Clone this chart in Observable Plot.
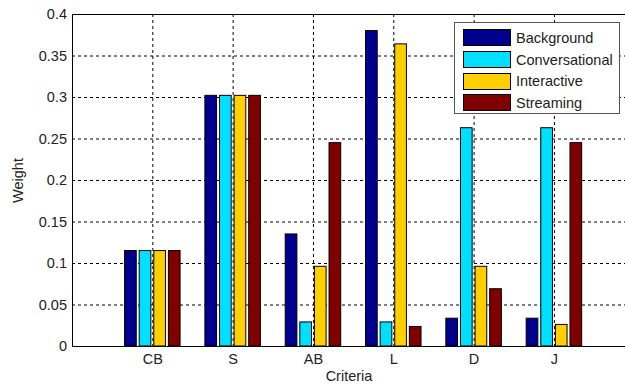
<!DOCTYPE html>
<html>
<head>
<meta charset="utf-8">
<script src="https://cdn.jsdelivr.net/npm/d3@7"></script>
<script src="https://cdn.jsdelivr.net/npm/@observablehq/plot@0.6"></script>
<style>
  html, body { margin: 0; padding: 0; background: #fff; overflow: hidden; }
  #wrap { position: relative; width: 625px; height: 390px; }
  #legend {
    position: absolute; left: 454px; top: 22px; width: 166px; height: 92px;
    border: 1px solid #555; background: #fff; box-sizing: border-box;
    font-family: "Liberation Sans", Arial, sans-serif; font-size: 14.5px; color: #222;
    padding: 4px 0 0 8px;
  }
  #legend .row { display: flex; align-items: center; height: 21.7px; }
  #legend .sw { width: 46px; height: 15px; border: 1px solid #000; margin-right: 5px; box-sizing: content-box; }
</style>
</head>
<body>
<div id="wrap"></div>
<script>
const categories = ["CB", "S", "AB", "L", "D", "J"];
const series = ["Background", "Conversational", "Interactive", "Streaming"];
const background     = [0.115, 0.302, 0.135, 0.380, 0.0335, 0.0335];
const conversational = [0.115, 0.302, 0.029, 0.029, 0.263, 0.263];
const interactive    = [0.115, 0.302, 0.096, 0.364, 0.096, 0.026];
const streaming      = [0.115, 0.302, 0.245, 0.0235, 0.069, 0.245];
const colors = ["#00008F", "#00DFFF", "#FFCF00", "#800000"];
const yTicks = [0, 0.05, 0.1, 0.15, 0.2, 0.25, 0.3, 0.35, 0.4];

const values = [background, conversational, interactive, streaming];
const rows = categories.flatMap((c, i) =>
  series.map((s, j) => ({ cat: c, pos: i + 1, j, series: s, value: values[j][i] }))
);
// MATLAB grouped-bar geometry (4 series)
const groupWidth = 4 / 5.5;
const slot = groupWidth / 4;
const barW = slot * 0.8;
const center = d => d.pos - groupWidth / 2 + (d.j + 0.5) * slot;
const xPositions = categories.map((c, i) => i + 1);

const font = "'Liberation Sans', Arial, sans-serif";
const chart = Plot.plot({
  width: 625,
  height: 390,
  marginLeft: 72,
  marginRight: 0,
  marginTop: 14,
  marginBottom: 44,
  style: { fontFamily: font, fontSize: "14.5px", color: "#222", background: "#fff" },
  x: { type: "linear", domain: [0, 553 / 80.32] },
  y: { domain: [0, 0.4] },
  color: { domain: series, range: colors },
  marks: [
    Plot.gridY(yTicks.slice(1, -1), { stroke: "#000", strokeOpacity: 1, strokeDasharray: "3,3" }),
    Plot.gridX(xPositions, { stroke: "#000", strokeOpacity: 1, strokeDasharray: "3,3" }),
    Plot.rectY(rows, {
      x1: d => center(d) - barW / 2,
      x2: d => center(d) + barW / 2,
      y: "value",
      fill: "series",
      stroke: "#000",
      strokeWidth: 1
    }),
    Plot.ruleY([0, 0.4], { stroke: "#000" }),
    Plot.ruleX([0], { stroke: "#000" }),
    Plot.axisY({
      ticks: yTicks, tickSize: 0, tickPadding: 5.5,
      tickFormat: d => String(+d.toFixed(2)),
      label: "Weight", labelAnchor: "center", labelArrow: "none", labelOffset: 60,
      fontSize: 14.5
    }),
    Plot.axisX({
      ticks: xPositions, tickSize: 0, tickPadding: 7,
      tickFormat: d => categories[d - 1],
      label: "Criteria", labelAnchor: "center", labelArrow: "none", labelOffset: 34,
      fontSize: 14.5
    })
  ]
});
const wrap = document.getElementById("wrap");
wrap.appendChild(chart);

const legend = document.createElement("div");
legend.id = "legend";
series.forEach((s, j) => {
  const row = document.createElement("div");
  row.className = "row";
  const sw = document.createElement("div");
  sw.className = "sw";
  sw.style.background = colors[j];
  const t = document.createElement("span");
  t.textContent = s;
  row.appendChild(sw);
  row.appendChild(t);
  legend.appendChild(row);
});
wrap.appendChild(legend);
</script>
</body>
</html>
